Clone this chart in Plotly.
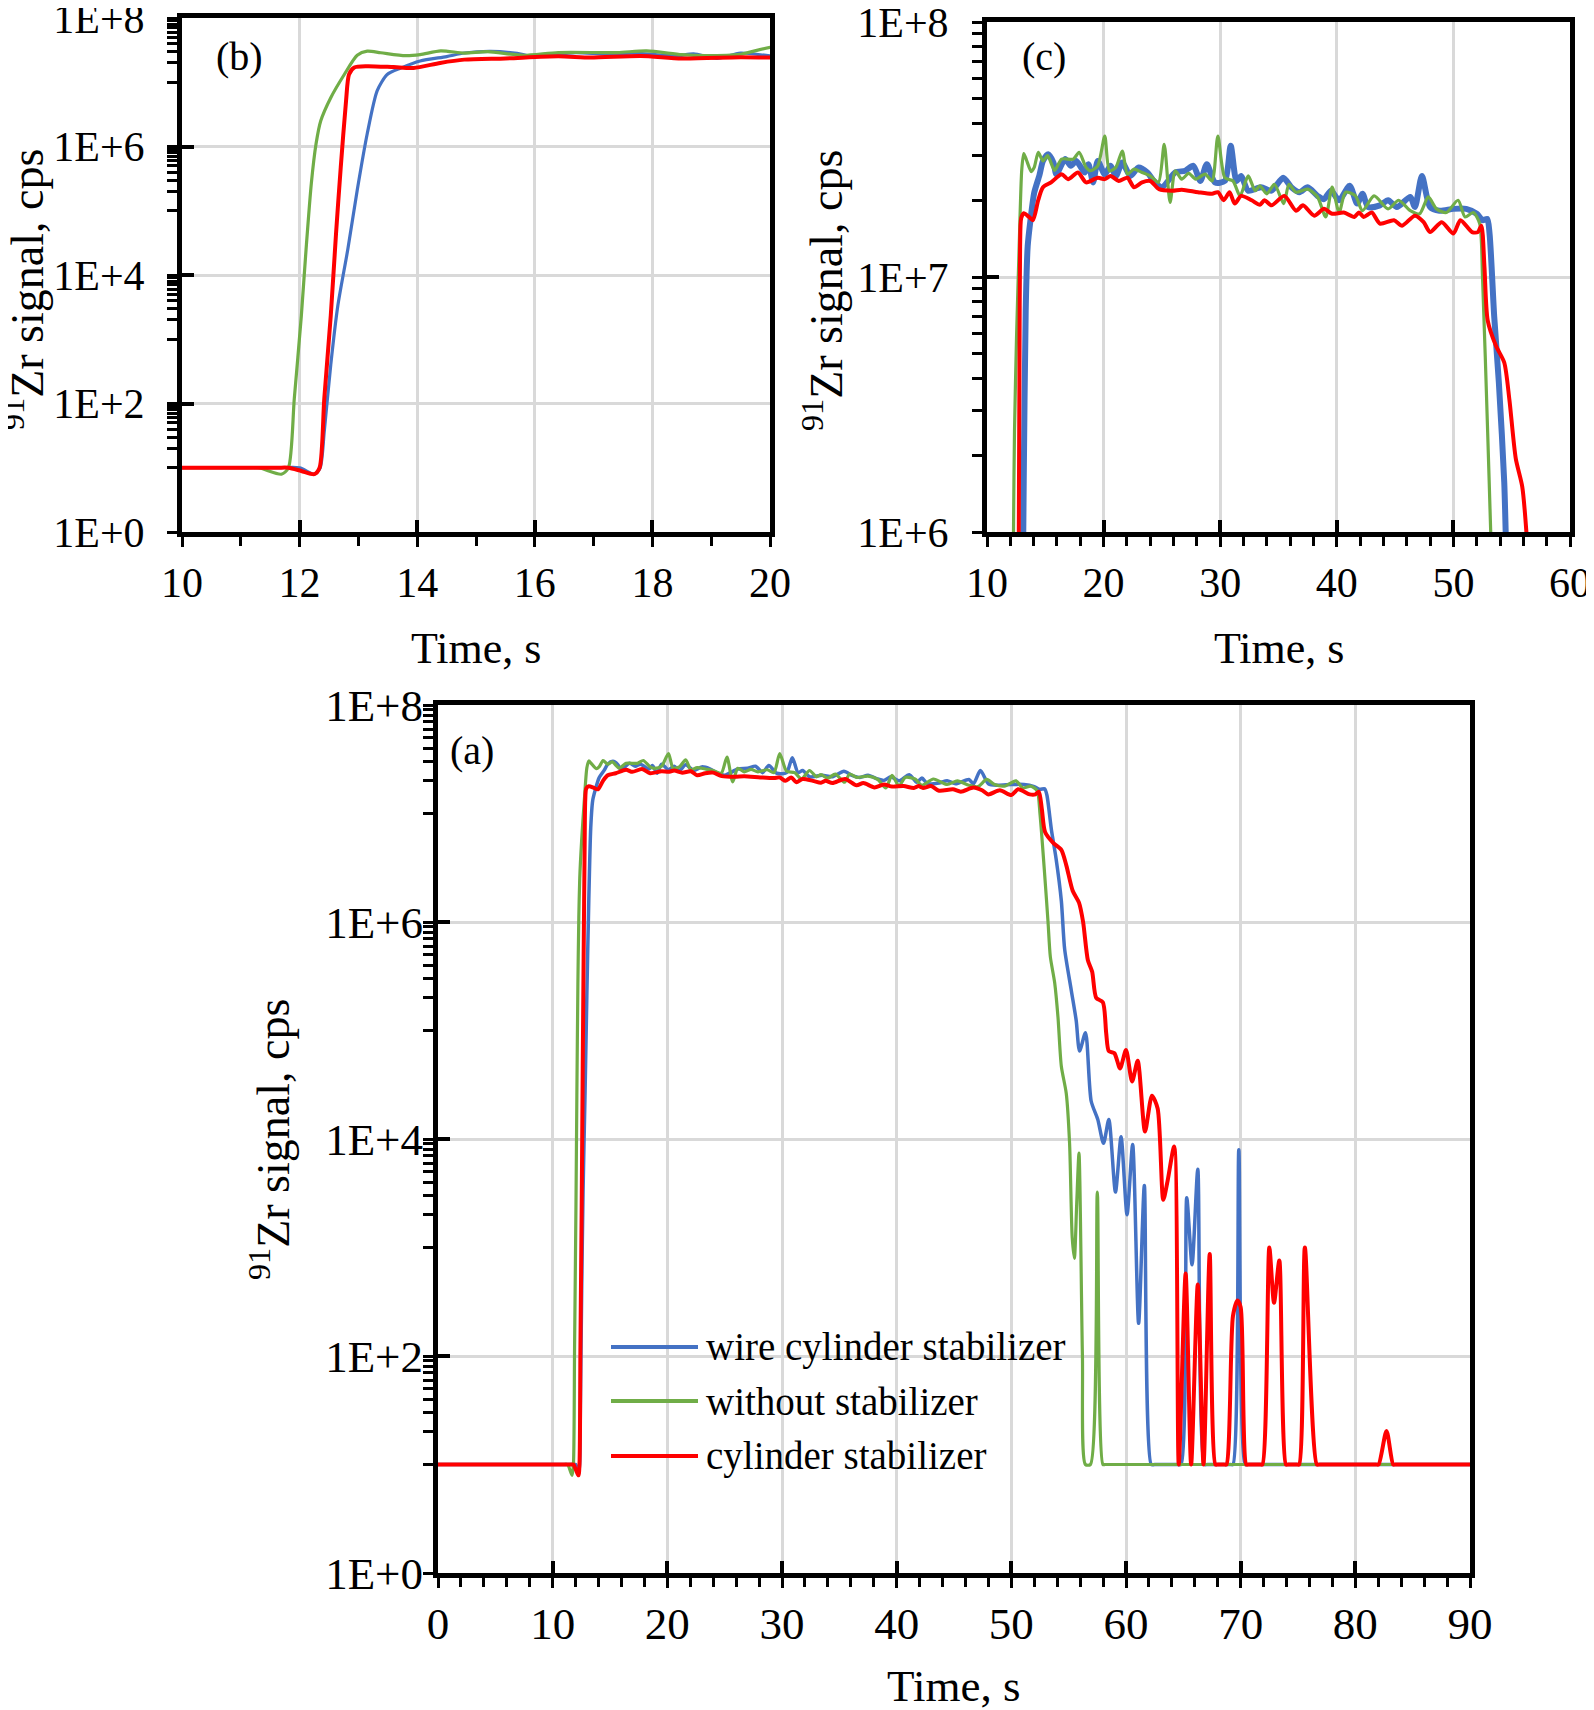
import plotly.graph_objects as go

# ---------------- data (cps vs time, s) ----------------
t_wire = [0, 0.5, 11.6, 12.0, 12.25, 12.35, 12.42, 12.53, 12.65, 12.82, 12.98, 13.15, 13.32, 13.49, 13.72, 14.05,
          14.5, 14.8, 15.25, 15.7, 15.95, 16.7, 17.2, 17.65, 18.4, 18.7, 19.1, 19.5, 20.1, 20.6, 21.05, 21.6,
          22.3, 23.0, 23.75, 24.3, 25.0, 26.15, 27.0, 27.7, 28.3, 28.85, 29.55, 30.4, 30.9, 31.4, 31.8, 32.4,
          33.5, 34.4, 35.4, 36.1, 36.8, 37.5, 38.35, 38.9, 39.5, 40.2, 41.1, 41.75, 42.2, 42.7, 43.7, 44.4,
          45.15, 46.3, 46.7, 47.3, 48.0, 48.8, 50.0, 51.1, 52.0, 52.5, 52.9, 53.1, 53.5, 53.9, 54.36, 54.65,
          55.23, 55.66, 55.95, 56.47, 56.96, 57.54, 58.04, 58.5, 59.08, 59.57, 60.09, 60.58, 61.1, 61.6, 62.2,
          62.5, 64.5, 64.8, 65.3, 65.76, 66.26, 66.84, 67.1, 69.1, 69.33, 69.84, 70.38, 70.6, 89.5, 90]
cps_wire = [10, 10, 10, 10, 7.94, 10, 37.2, 398, 3310, 2.51e4, 2.09e5, 1.58e6, 7.41e6, 1.32e7, 1.66e7, 2.14e7,
            2.51e7, 2.85e7, 3.03e7, 2.81e7, 2.53e7, 2.90e7, 2.73e7, 2.85e7, 2.57e7, 2.77e7, 2.35e7, 2.85e7,
            2.53e7, 2.73e7, 2.49e7, 2.81e7, 2.49e7, 2.69e7, 2.57e7, 2.38e7, 2.25e7, 2.57e7, 2.61e7, 2.73e7,
            2.38e7, 2.77e7, 2.35e7, 2.38e7, 3.27e7, 2.38e7, 2.49e7, 2.18e7, 2.25e7, 2.18e7, 2.45e7, 2.25e7,
            2.15e7, 2.25e7, 2.08e7, 2.02e7, 2.18e7, 2.00e7, 2.28e7, 1.94e7, 2.12e7, 1.88e7, 1.91e7, 2.00e7,
            1.88e7, 2.06e7, 1.88e7, 2.49e7, 1.88e7, 1.82e7, 1.85e7, 1.85e7, 1.77e7, 1.67e7, 1.69e7, 1.48e7,
            7.0e6, 3.85e6, 1.57e6, 5.62e5, 2.34e5, 1.23e5, 6.46e4, 9.55e4, 2.24e4, 1.51e4, 9120, 1.51e4, 3240,
            1.05e4, 2000, 8910, 200, 3720, 10, 10, 10, 10, 2880, 692, 5250, 10, 10, 10, 10, 7940, 10, 10, 10, 10]

t_without = [0, 0.5, 11.0, 11.3, 11.69, 11.81, 11.91, 12.03, 12.11, 12.2, 12.28, 12.36, 12.53, 12.76, 12.98,
             13.15, 13.38, 13.8, 14.05, 14.4, 14.8, 15.2, 15.8, 16.4, 17.4, 17.9, 18.5, 18.9, 19.5, 20.1, 20.5,
             21.05, 21.6, 22.05, 22.6, 23.3, 24.0, 24.7, 25.2, 25.7, 26.15, 26.7, 27.3, 27.9, 28.7, 29.3, 29.8,
             30.4, 31.1, 31.7, 32.4, 33.0, 33.4, 34.0, 34.65, 35.45, 35.9, 36.5, 37.5, 38.35, 39.05, 39.6, 40.2,
             40.75, 41.6, 42.2, 43.2, 44.4, 45.3, 46.3, 47.1, 47.85, 48.55, 49.4, 50.4, 51.0, 51.7, 52.25,
             52.5, 52.94, 53.2, 53.4, 53.78, 54.07, 54.36, 54.79, 55.08, 55.31, 55.5, 55.7, 55.9, 56.2, 56.46,
             56.9, 57.5, 57.99, 58.2, 89.5, 90]
cps_without = [10, 10, 10, 10, 7.94, 10, 120, 2340, 2.51e4, 2.69e5, 1.10e6, 2.51e6, 5.75e6, 1.32e7, 2.63e7,
               3.05e7, 2.88e7, 2.59e7, 2.69e7, 3.08e7, 2.85e7, 2.99e7, 2.62e7, 2.90e7, 2.90e7, 3.08e7, 2.69e7,
               2.61e7, 2.73e7, 3.57e7, 2.61e7, 2.69e7, 3.12e7, 2.53e7, 2.65e7, 2.57e7, 2.49e7, 2.35e7, 3.31e7,
               1.96e7, 2.61e7, 2.42e7, 2.55e7, 2.42e7, 2.53e7, 2.38e7, 3.57e7, 2.45e7, 2.38e7, 2.08e7, 2.49e7,
               2.18e7, 2.28e7, 2.12e7, 2.31e7, 1.94e7, 2.31e7, 2.15e7, 2.21e7, 2.06e7, 1.72e7, 2.25e7, 1.79e7,
               2.15e7, 2.08e7, 1.82e7, 2.08e7, 1.85e7, 2.00e7, 1.82e7, 1.77e7, 2.06e7, 1.85e7, 1.79e7, 2.00e7,
               1.72e7, 1.79e7, 1.62e7, 9.89e6, 2.45e6, 1.0e6, 4.79e5, 2.75e5, 1.32e5, 4.68e4, 2.63e4, 9120,
               1230, 794, 2510, 7410, 100, 10, 10, 3240, 10, 10, 10, 10]

t_cyl = [0, 0.5, 11.6, 11.81, 12.03, 12.25, 12.34, 12.42, 12.53, 12.62, 12.70, 12.79, 12.84, 12.93, 13.15, 13.6,
         13.94, 14.39, 14.8, 15.5, 16.4, 16.95, 17.8, 18.5, 19.5, 20.1, 20.6, 21.3, 22.05, 22.6, 23.3, 24.0,
         24.75, 25.9, 26.7, 28.1, 29.3, 29.8, 30.3, 30.8, 31.25, 31.8, 32.7, 33.4, 33.8, 34.4, 35.5, 36.5,
         37.1, 38.06, 38.9, 39.6, 40.6, 41.5, 41.9, 42.3, 43.0, 43.7, 44.9, 45.6, 46.7, 47.45, 48.0, 49.0,
         50.0, 50.6, 51.6, 52.1, 52.4, 52.66, 52.94, 53.65, 54.36, 54.8, 55.35, 55.9, 56.26, 56.67, 57.05,
         57.4, 57.98, 58.27, 58.5, 58.99, 59.48, 60.0, 60.53, 61.02, 61.66, 62.26, 62.76, 63.25, 63.62, 64.2,
         64.6, 65.2, 65.68, 66.26, 66.76, 67.3, 67.8, 68.0, 68.55, 68.76, 69.33, 69.72, 70.0, 70.49, 70.7,
         71.7, 71.9, 72.5, 72.91, 73.37, 73.95, 74.15, 74.9, 75.1, 75.6, 76.64, 76.9, 81.8, 82.03, 82.72,
         83.3, 83.5, 89.5, 90]
cps_cyl = [10, 10, 10, 10, 8.91, 7.94, 10, 120, 2340, 4.47e4, 4.79e5, 5.13e6, 1.32e7, 1.70e7, 1.78e7, 1.72e7,
           1.67e7, 2.00e7, 2.25e7, 2.35e7, 2.53e7, 2.42e7, 2.57e7, 2.35e7, 2.45e7, 2.42e7, 2.49e7, 2.38e7,
           2.45e7, 2.25e7, 2.35e7, 2.38e7, 2.21e7, 2.18e7, 2.20e7, 2.15e7, 2.12e7, 2.15e7, 2.00e7, 2.15e7,
           1.94e7, 2.08e7, 2.00e7, 1.92e7, 2.00e7, 1.91e7, 2.08e7, 1.82e7, 1.91e7, 1.74e7, 1.85e7, 1.77e7,
           1.79e7, 1.72e7, 1.79e7, 1.72e7, 1.79e7, 1.62e7, 1.67e7, 1.59e7, 1.74e7, 1.64e7, 1.50e7, 1.64e7,
           1.48e7, 1.67e7, 1.50e7, 1.50e7, 1.59e7, 1.10e7, 6.76e6, 5.37e6, 4.62e6, 3.31e6, 1.94e6, 1.51e6,
           1.0e6, 4.47e5, 3.47e5, 2.0e5, 1.82e5, 9.55e4, 6.46e4, 6.17e4, 4.47e4, 6.61e4, 3.39e4, 5.25e4,
           1.17e4, 2.51e4, 1.91e4, 2750, 4070, 8510, 10, 575, 10, 457, 10, 871, 10, 10, 10, 10, 234, 324, 282,
           10, 10, 10, 10, 1000, 309, 759, 10, 10, 10, 10, 1000, 10, 10, 10, 10, 20.4, 10, 10, 10, 10]

series_names = ["wire cylinder stabilizer", "without stabilizer", "cylinder stabilizer"]
series_colors = ["#4472C4", "#70AD47", "#FF0000"]

log_major_vals = [1, 1e2, 1e4, 1e6, 1e8]
log_major_text = ["1E+0", "1E+2", "1E+4", "1E+6", "1E+8"]
log_minor_vals = [k * 10 ** e for e in (1, 3, 5, 7) for k in range(1, 10)]
c_major_vals = [1e6, 1e7, 1e8]
c_major_text = ["1E+6", "1E+7", "1E+8"]
c_minor_vals = [k * 10 ** e for e in (6, 7) for k in range(2, 10)]

# ---------------- layout geometry ----------------
# the page body has an 8 px margin, so the figure is made 8 px smaller and
# all target positions (page pixels) are shifted by that offset
OFF = 8
W, H = 1594 - OFF, 1710 - OFF
def fx(px):
    return (px - OFF) / W
def fy(py):
    return 1 - (py - OFF) / H

LW = 5
ins = 2
dom = {
    "b": ([fx(180 + ins), fx(772 - ins)], [fy(534 - ins), fy(16 + ins)]),
    "c": ([fx(985 + ins), fx(1572 - ins)], [fy(534 - ins), fy(20 + ins)]),
    "a": ([fx(436 + ins), fx(1472 - ins)], [fy(1575 - ins), fy(703 + ins)]),
}

FONT = "Liberation Serif"
GRID = "#d9d9d9"

fig = go.Figure()

xs = [t_wire, t_without, t_cyl]
ys = [cps_wire, cps_without, cps_cyl]
widths = {"b": [3.2, 3.2, 4], "c": [6, 3.2, 4], "a": [3.5, 3.2, 4]}
axes_of = {"b": ("x", "y"), "c": ("x2", "y2"), "a": ("x3", "y3")}
for panel in ("b", "c", "a"):
    xa, ya = axes_of[panel]
    for i in range(3):
        fig.add_trace(go.Scatter(
            x=xs[i], y=ys[i], mode="lines", name=series_names[i],
            line=dict(color=series_colors[i], width=widths[panel][i], shape="spline", smoothing=0.7),
            xaxis=xa, yaxis=ya, showlegend=False, hoverinfo="skip"))

# empty traces on overlay axes (inner halves of crossing major ticks)
for xa, ya in (("x4", "y4"), ("x5", "y5"), ("x6", "y6")):
    fig.add_trace(go.Scatter(x=[], y=[], xaxis=xa, yaxis=ya, showlegend=False, hoverinfo="skip"))


def base_axis(domain, tsize, anchor):
    return dict(domain=domain, anchor=anchor, showline=True, linecolor="black", linewidth=LW, mirror=True,
                showgrid=True, gridcolor=GRID, gridwidth=2.5, zeroline=False,
                ticks="outside", ticklen=10, tickwidth=3, tickcolor="black", ticklabeloverflow="allow",
                tickfont=dict(family=FONT, size=tsize, color="black"), automargin=False)


def x_axis(panel, anchor, rng, dtick, mdtick, tsize, standoff):
    d = base_axis(dom[panel][0], tsize, anchor)
    d.update(range=rng, tick0=rng[0], dtick=dtick, ticklabelstandoff=standoff,
             minor=dict(tick0=rng[0], dtick=mdtick, ticks="outside", ticklen=9, tickwidth=2.5,
                        tickcolor="black", showgrid=False))
    return d


def y_axis(panel, anchor, rng, vals, text, mvals, tsize, standoff):
    d = base_axis(dom[panel][1], tsize, anchor)
    d.update(type="log", range=rng, tickmode="array", tickvals=vals, ticktext=text,
             ticklabelstandoff=standoff,
             minor=dict(tickmode="array", tickvals=mvals, ticks="outside", ticklen=10, tickwidth=2.5,
                        tickcolor="black", showgrid=False))
    return d


def inner_x(over, anchor, rng, dtick):
    return dict(overlaying=over, anchor=anchor, range=rng, tick0=rng[0], dtick=dtick, ticks="inside",
                ticklen=12, tickwidth=3.5, tickcolor="black", showticklabels=False, showgrid=False,
                showline=False, zeroline=False)


def inner_y(over, anchor, rng, vals):
    return dict(overlaying=over, anchor=anchor, type="log", range=rng, tickmode="array", tickvals=vals,
                ticks="inside", ticklen=12, tickwidth=3.5, tickcolor="black", showticklabels=False,
                showgrid=False, showline=False, zeroline=False)


fig.update_layout(
    width=W, height=H, margin=dict(l=0, r=0, t=0, b=0),
    paper_bgcolor="white", plot_bgcolor="white", template="none", showlegend=False,
    xaxis=x_axis("b", "y", [10, 20], 2, 1, 42, 0),
    yaxis=y_axis("b", "x", [0, 8], log_major_vals, log_major_text, log_minor_vals, 42, 14),
    xaxis2=x_axis("c", "y2", [10, 60], 10, 2, 42, 0),
    yaxis2=y_axis("c", "x2", [6, 8], c_major_vals, c_major_text, c_minor_vals, 42, 15),
    xaxis3=x_axis("a", "y3", [0, 90], 10, 2, 45, -3),
    yaxis3=y_axis("a", "x3", [0, 8], log_major_vals, log_major_text, log_minor_vals, 45, -9),
    xaxis4=inner_x("x", "y", [10, 20], 2),
    yaxis4=inner_y("y", "x", [0, 8], log_major_vals),
    xaxis5=inner_x("x2", "y2", [10, 60], 10),
    yaxis5=inner_y("y2", "x2", [6, 8], c_major_vals),
    xaxis6=inner_x("x3", "y3", [0, 90], 10),
    yaxis6=inner_y("y3", "x3", [0, 8], log_major_vals),
)

ann = []
def text_at(px, py, txt, size, angle=0, xanchor="center"):
    ann.append(dict(x=fx(px), y=fy(py), xref="paper", yref="paper", text=txt, showarrow=False,
                    textangle=angle, xanchor=xanchor, yanchor="middle",
                    font=dict(family=FONT, size=size, color="black")))

ylab = "<sup>91</sup>Zr signal, cps"
text_at(476, 648, "Time, s", 44)
text_at(1279, 648, "Time, s", 44)
text_at(954, 1686, "Time, s", 45)
text_at(24, 290, ylab, 46, -90)
text_at(823, 290, ylab, 46, -90)
text_at(270, 1140, ylab, 46, -90)
text_at(239, 56, "(b)", 40)
text_at(1044, 56, "(c)", 40)
text_at(472, 750, "(a)", 40)

# legend inside panel (a)
shapes = []
leg_y = [1347, 1401, 1456]
for i in range(3):
    shapes.append(dict(type="line", xref="paper", yref="paper", x0=fx(611), x1=fx(698),
                       y0=fy(leg_y[i]), y1=fy(leg_y[i]),
                       line=dict(color=series_colors[i], width=4)))
    text_at(704, leg_y[i], series_names[i], 39, xanchor="left")

fig.update_layout(annotations=ann, shapes=shapes)
fig.write_html("out.html")
